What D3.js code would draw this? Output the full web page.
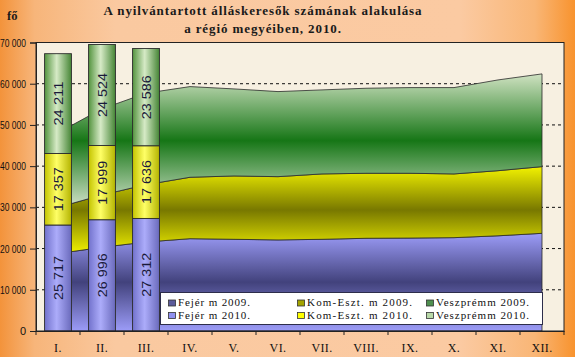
<!DOCTYPE html>
<html><head><meta charset="utf-8">
<script src="https://cdn.jsdelivr.net/npm/d3@7"></script>
<style>html,body{margin:0;padding:0;overflow:hidden}svg{display:block}</style>
</head><body>
<script>
// ---- data ----
const months = ["I.","II.","III.","IV.","V.","VI.","VII.","VIII.","IX.","X.","XI.","XII."];
const barMonths = ["I.","II.","III."];
const fejer2010 = [25717, 26996, 27312];
const komeszt2010 = [17357, 17999, 17636];
const veszprem2010 = [24211, 24524, 23586];
const fejer2009 = [18800, 20300, 21600, 22400, 22250, 22100, 22250, 22500, 22550, 22650, 23100, 23700];
const komeszt2009 = [11200, 12700, 13900, 14900, 15370, 15350, 15860, 15770, 15720, 15460, 15800, 16180];
const veszprem2009 = [18100, 20900, 22200, 22000, 21120, 20640, 20390, 20630, 20790, 20950, 22020, 22500];
const yTicks = [0, 10000, 20000, 30000, 40000, 50000, 60000, 70000];
const legendLabels = ["Fejér m 2009.", "Kom-Eszt. m 2009.", "Veszprémm 2009.", "Fejér m 2010.", "Kom-Eszt. m 2010.", "Veszprémm 2010."];
const titleLines = ["A nyilvántartott álláskeresők számának alakulása", "a régió megyéiben, 2010."];
const unitLabel = "fő";

// ---- layout ----
const W = 575, H = 357;
const plot = {l: 36, r: 564, t: 42.5, b: 331};
const svg = d3.select("body").append("svg").attr("width", W).attr("height", H);
const defs = svg.append("defs");

function lin(id, stops, horiz) {
  const g = defs.append("linearGradient").attr("id", id)
    .attr("x1", 0).attr("y1", 0).attr("x2", horiz ? 1 : 0).attr("y2", horiz ? 0 : 1);
  stops.forEach(([o, c]) => g.append("stop").attr("offset", o).attr("stop-color", c));
}
lin("bg", [[0, "#f3933b"], [0.06, "#f7b57a"], [0.2, "#fac9a0"], [0.8, "#fbcaa2"], [0.93, "#f9b676"], [1, "#f8932e"]], true);
lin("gBlue", [[0, "#9c9cf8"], [0.5, "#42427c"], [1, "#9c9cf8"]]);
lin("gYel", [[0, "#f2f200"], [0.5, "#787800"], [1, "#f2f200"]]);
lin("gGreen", [[0, "#d0e2c2"], [0.5, "#167616"], [1, "#d2e2ca"]]);
lin("bBlue", [[0, "#7272cc"], [0.45, "#acacfa"], [1, "#6a6abc"]], true);
lin("bYel", [[0, "#c4c400"], [0.45, "#ffff66"], [1, "#b4b400"]], true);
lin("bGreen", [[0, "#54943f"], [0.45, "#d6eac6"], [1, "#468636"]], true);

svg.append("rect").attr("width", W).attr("height", H).attr("fill", "url(#bg)");
svg.append("rect").attr("x", plot.l).attr("y", plot.t).attr("width", plot.r - plot.l).attr("height", plot.b - plot.t)
  .attr("fill", "#f7f0e1");

const x = d3.scaleBand().domain(months).range([plot.l, plot.r]).padding(0);
const y = d3.scaleLinear().domain([0, 70000]).range([plot.b, plot.t]);
const cx = m => x(m) + x.bandwidth() / 2;

// gridlines
svg.append("g").selectAll("line").data(yTicks.filter(t => t > 0 && t < 70000)).join("line")
  .attr("x1", plot.l).attr("x2", plot.r).attr("y1", d => y(d)).attr("y2", d => y(d))
  .attr("stroke", "#111").attr("stroke-width", 1).attr("stroke-dasharray", "3,3");

// stacked areas 2009
const rows = months.map((m, i) => ({m, fejer: fejer2009[i], kom: komeszt2009[i], vesz: veszprem2009[i]}));
const stack = d3.stack().keys(["fejer", "kom", "vesz"])(rows);
const area = d3.area().x(d => cx(d.data.m)).y0(d => y(d[0])).y1(d => y(d[1]));
const areaFills = ["url(#gBlue)", "url(#gYel)", "url(#gGreen)"];
svg.append("g").selectAll("path").data(stack).join("path")
  .attr("d", area).attr("fill", (d, i) => areaFills[i])
  .attr("stroke", "#2a2a2a").attr("stroke-width", 0.8);

// legend
const lg = svg.append("g");
lg.append("rect").attr("x", 160.5).attr("y", 292.5).attr("width", 382).attr("height", 32)
  .attr("fill", "#fff").attr("stroke", "#2d2d4a").attr("stroke-width", 1);
const legColors = ["#5c5c9c", "#a4a400", "#4f8f4f", "#9090f0", "#ffff00", "#b8d8a8"];
const colX = [168, 297, 426];
const colTextW = [72, 105, 93];
legendLabels.forEach((t, i) => {
  const c = i % 3, r = Math.floor(i / 3);
  const gx = colX[c], gy = 299.5 + r * 12.5;
  lg.append("rect").attr("x", gx + 0.5).attr("y", gy + 0.5).attr("width", 7).attr("height", 6)
    .attr("fill", legColors[i]).attr("stroke", "#333").attr("stroke-width", 0.8);
  lg.append("text").attr("x", gx + 10).attr("y", gy + 6.5).text(t)
    .attr("font-family", "Liberation Serif, Times New Roman, serif").attr("font-size", 11)
    .attr("textLength", colTextW[c]).attr("lengthAdjust", "spacing").attr("fill", "#111");
});

// bars 2010
const fmt = d3.formatLocale({thousands: " ", grouping: [3], decimal: ",", currency: ["", ""]}).format(",d");
const bw = x.bandwidth() * 0.61;
const barRows = barMonths.map((m, i) => ({m, fejer: fejer2010[i], kom: komeszt2010[i], vesz: veszprem2010[i]}));
const bstack = d3.stack().keys(["fejer", "kom", "vesz"])(barRows);
const barFills = ["url(#bBlue)", "url(#bYel)", "url(#bGreen)"];
const bars = svg.append("g");
bstack.forEach((s, si) => {
  s.forEach(d => {
    const bx = cx(d.data.m) - bw / 2;
    bars.append("rect").attr("x", bx).attr("y", y(d[1])).attr("width", bw).attr("height", y(d[0]) - y(d[1]))
      .attr("fill", barFills[si]).attr("stroke", "#2b2b2b").attr("stroke-width", 0.9);
    const mx = cx(d.data.m), my = (y(d[0]) + y(d[1])) / 2;
    bars.append("text").attr("transform", `translate(${mx + 5},${my}) rotate(-90)`)
      .attr("text-anchor", "middle").text(fmt(d[1] - d[0]))
      .attr("font-family", "Liberation Sans, Arial, sans-serif").attr("font-size", 13.5)
      .attr("textLength", 44).attr("lengthAdjust", "spacingAndGlyphs").attr("fill", "#1a1a3a");
  });
});

// frame
svg.append("rect").attr("x", plot.l).attr("y", plot.t).attr("width", plot.r - plot.l).attr("height", plot.b - plot.t)
  .attr("fill", "none").attr("stroke", "#222").attr("stroke-width", 1);

// axes
const yAxis = svg.append("g").attr("transform", `translate(${plot.l},0)`)
  .call(d3.axisLeft(y).tickValues(yTicks).tickSize(6).tickPadding(4).tickFormat(fmt));
yAxis.select(".domain").attr("stroke", "#222");
yAxis.selectAll("line").attr("stroke", "#222");
yAxis.selectAll("text").attr("font-family", "Liberation Sans, Arial, sans-serif")
  .attr("font-size", 11).attr("fill", "#111")
  .each(function(d) { if (d > 0) d3.select(this).attr("textLength", 26).attr("lengthAdjust", "spacingAndGlyphs"); });

const xAxis = svg.append("g").attr("transform", `translate(0,${plot.b})`)
  .call(d3.axisBottom(x).tickSize(0).tickPadding(12));
xAxis.select(".domain").attr("stroke", "#222");
xAxis.selectAll("text").attr("font-family", "Liberation Serif, Times New Roman, serif")
  .attr("font-size", 12).attr("letter-spacing", 0.4).attr("fill", "#111");
svg.append("g").selectAll("line").data(months.concat(["end"])).join("line")
  .attr("x1", (d, i) => plot.l + i * x.bandwidth()).attr("x2", (d, i) => plot.l + i * x.bandwidth())
  .attr("y1", plot.b).attr("y2", plot.b + 4).attr("stroke", "#222");

// title & unit
const tg = svg.append("g").attr("font-family", "Liberation Serif, Times New Roman, serif")
  .attr("font-weight", "bold").attr("fill", "#1a1a1a");
titleLines.forEach((t, i) => {
  tg.append("text").attr("x", 263).attr("y", 15 + i * 18).attr("text-anchor", "middle")
    .attr("font-size", 13).attr("letter-spacing", 0.9).text(t);
});
tg.append("text").attr("x", 7).attr("y", 20).attr("font-size", 12.5).text(unitLabel);
</script>
</body></html>
